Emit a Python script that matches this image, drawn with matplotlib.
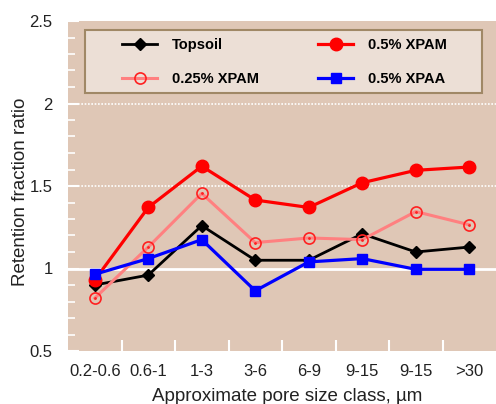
import numpy as np
import matplotlib.pyplot as plt
from matplotlib.patches import Rectangle
from matplotlib.ticker import MultipleLocator

plt.rcParams['font.family'] = ['Liberation Sans', 'DejaVu Sans']

classes = ['0.2-0.6', '0.6-1', '1-3', '3-6', '6-9', '9-15', '9-15', '>30']
topsoil = [0.90, 0.96, 1.26, 1.05, 1.05, 1.21, 1.10, 1.13]
xpam_05 = [0.93, 1.37, 1.62, 1.415, 1.37, 1.52, 1.595, 1.615]
xpam_025 = [0.82, 1.13, 1.455, 1.157, 1.185, 1.175, 1.345, 1.265]
xpaa_05 = [0.965, 1.06, 1.175, 0.865, 1.04, 1.06, 0.995, 0.995]

x = np.arange(len(classes))

W, H = 496, 404
L, R, T, B = 68, 496, 21, 351  # plot area in pixels

fig = plt.figure(figsize=(W / 100, H / 100), dpi=100)
ax = fig.add_axes([L / W, 1 - B / H, (R - L) / W, (B - T) / H])
ax.set_facecolor('#dfc7b6')
for s in ax.spines.values():
    s.set_visible(False)

def ax_x(px):
    return (px - L) / (R - L)

def ax_y(py):
    return (B - py) / (B - T)

# grid lines
ax.axhline(1.0, color='white', lw=2, zorder=1)
for g in [1.5, 2.0]:
    ax.axhline(g, color='white', lw=1.2, ls=(0, (1, 1)), zorder=1)

ax.plot(x, topsoil, color='black', lw=2, marker='D', ms=6, label='Topsoil', zorder=3)
ax.plot(x, xpam_05, color='#ff0000', lw=2.3, marker='o', ms=9, label='0.5% XPAM', zorder=3)
ax.plot(x, xpam_025, color='#ff8080', lw=2.2, marker='o', ms=8, mfc='none',
        mec='#ff2020', mew=1.2, label='0.25% XPAM', zorder=3)
ax.plot(x, xpam_025, ls='none', marker='.', ms=2, color='#ff2020', zorder=4)
ax.plot(x, xpaa_05, color='#0000ff', lw=2.3, marker='s', ms=7.5, label='0.5% XPAA', zorder=3)

ax.set_xlim(-0.5, 7.5)
ax.set_ylim(0.5, 2.5)
ax.set_xticks(x)
ax.set_xticklabels(classes)
ax.set_xticks(np.arange(0.5, 7.5, 1), minor=True)
ax.tick_params(axis='x', which='major', length=0, pad=9, labelsize=12, labelcolor='#222222')
ax.tick_params(axis='x', which='minor', length=8, width=1.5, color='white', direction='in')
ax.set_yticks([0.5, 1, 1.5, 2, 2.5])
ax.set_yticklabels(['0.5', '1', '1.5', '2', '2.5'])
ax.yaxis.set_minor_locator(MultipleLocator(0.1))
ax.tick_params(axis='y', which='major', length=8, width=1.5, color='white', direction='in',
               labelsize=12, labelcolor='#222222', pad=11)
ax.tick_params(axis='y', which='minor', length=5, width=1.2, color='white', direction='in')

ax.set_ylabel('Retention fraction ratio', fontsize=13.5, color='#222222')
ax.yaxis.set_label_coords(ax_x(29), ax_y(192))
ax.set_xlabel('Approximate pore size class, \u00b5m', fontsize=13.5, color='#222222')
ax.xaxis.set_label_coords(ax_x(287), ax_y(388))

# legend frame
box = Rectangle((ax_x(85), ax_y(93)), ax_x(482) - ax_x(85), ax_y(30) - ax_y(93),
                transform=ax.transAxes, facecolor='#ecdfd6', edgecolor='#a08866',
                lw=1.5, zorder=5)
ax.add_patch(box)

h, l = ax.get_legend_handles_labels()
order = [0, 2, 1, 3]
leg = ax.legend([h[i] for i in order], [l[i] for i in order], ncol=2, loc='upper left',
                bbox_to_anchor=(ax_x(122), ax_y(38)), frameon=False,
                prop={'weight': 'bold', 'size': 10.5}, handlelength=2.4,
                handletextpad=1.0, columnspacing=4.1, borderpad=0, borderaxespad=0,
                labelspacing=1.4)
leg.set_zorder(6)

fig.savefig('out.png', dpi=100)
